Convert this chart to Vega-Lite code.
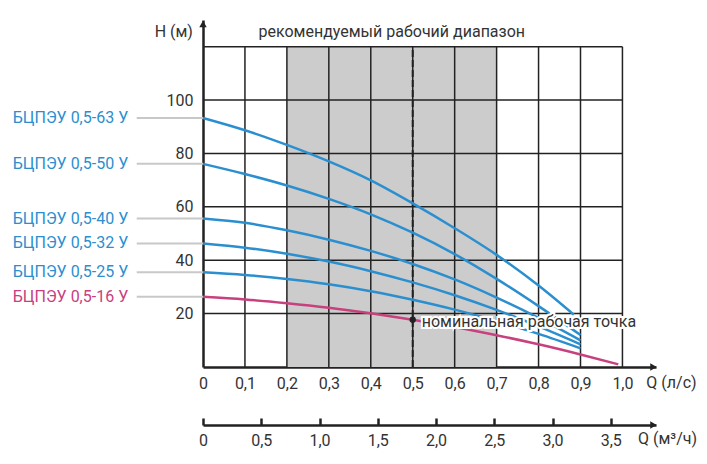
{
  "$schema": "https://vega.github.io/schema/vega-lite/v6.json",
  "autosize": {"type": "none"},
  "padding": {"left": 203, "top": 20, "right": 51, "bottom": 97},
  "width": 453,
  "height": 347,
  "config": {
    "view": {"stroke": null},
    "font": "Roboto",
    "text": {"font": "Roboto", "fontSize": 16, "color": "#333333"},
    "axis": {"labelFont": "Roboto", "labelFontSize": 16, "labelColor": "#333333", "domainColor": "#222222", "domainWidth": 2.5, "grid": false, "labelFlush": false, "labelOverlap": false}
  },
  "datasets": {
    "curves": [
      {"model": "63", "q": 0, "h": 93.3}, {"model": "63", "q": 0.1, "h": 88.7}, {"model": "63", "q": 0.2, "h": 83.2}, {"model": "63", "q": 0.3, "h": 77.0}, {"model": "63", "q": 0.4, "h": 69.9}, {"model": "63", "q": 0.5, "h": 61.3}, {"model": "63", "q": 0.6, "h": 52.0}, {"model": "63", "q": 0.7, "h": 42.0}, {"model": "63", "q": 0.8, "h": 30.5}, {"model": "63", "q": 0.884, "h": 19.6},
      {"model": "50", "q": 0, "h": 76.1}, {"model": "50", "q": 0.1, "h": 72.3}, {"model": "50", "q": 0.2, "h": 68.0}, {"model": "50", "q": 0.3, "h": 63.0}, {"model": "50", "q": 0.4, "h": 57.2}, {"model": "50", "q": 0.5, "h": 50.3}, {"model": "50", "q": 0.6, "h": 42.3}, {"model": "50", "q": 0.7, "h": 33.0}, {"model": "50", "q": 0.8, "h": 22.8}, {"model": "50", "q": 0.9, "h": 12.0},
      {"model": "40", "q": 0, "h": 55.6}, {"model": "40", "q": 0.1, "h": 54.0}, {"model": "40", "q": 0.2, "h": 51.2}, {"model": "40", "q": 0.3, "h": 47.7}, {"model": "40", "q": 0.4, "h": 43.5}, {"model": "40", "q": 0.5, "h": 38.6}, {"model": "40", "q": 0.6, "h": 32.8}, {"model": "40", "q": 0.7, "h": 26.0}, {"model": "40", "q": 0.8, "h": 18.4}, {"model": "40", "q": 0.9, "h": 10.0},
      {"model": "32", "q": 0, "h": 46.3}, {"model": "32", "q": 0.1, "h": 44.7}, {"model": "32", "q": 0.2, "h": 42.4}, {"model": "32", "q": 0.3, "h": 39.5}, {"model": "32", "q": 0.4, "h": 35.9}, {"model": "32", "q": 0.5, "h": 31.7}, {"model": "32", "q": 0.6, "h": 26.9}, {"model": "32", "q": 0.7, "h": 21.4}, {"model": "32", "q": 0.8, "h": 15.2}, {"model": "32", "q": 0.9, "h": 8.5},
      {"model": "25", "q": 0, "h": 35.5}, {"model": "25", "q": 0.1, "h": 34.5}, {"model": "25", "q": 0.2, "h": 33.0}, {"model": "25", "q": 0.3, "h": 31.0}, {"model": "25", "q": 0.4, "h": 28.4}, {"model": "25", "q": 0.5, "h": 25.2}, {"model": "25", "q": 0.6, "h": 21.5}, {"model": "25", "q": 0.7, "h": 17.2}, {"model": "25", "q": 0.8, "h": 12.4}, {"model": "25", "q": 0.9, "h": 7.0},
      {"model": "16", "q": 0, "h": 26.3}, {"model": "16", "q": 0.1, "h": 25.3}, {"model": "16", "q": 0.2, "h": 23.9}, {"model": "16", "q": 0.3, "h": 22.2}, {"model": "16", "q": 0.4, "h": 20.1}, {"model": "16", "q": 0.5, "h": 17.7}, {"model": "16", "q": 0.6, "h": 15.0}, {"model": "16", "q": 0.7, "h": 11.9}, {"model": "16", "q": 0.8, "h": 8.5}, {"model": "16", "q": 0.9, "h": 4.7}, {"model": "16", "q": 0.99, "h": 1.0}
    ],
    "labels": [
      {"model": "63", "label": "БЦПЭУ 0,5-63 У", "h": 93.3},
      {"model": "50", "label": "БЦПЭУ 0,5-50 У", "h": 76.1},
      {"model": "40", "label": "БЦПЭУ 0,5-40 У", "h": 55.6},
      {"model": "32", "label": "БЦПЭУ 0,5-32 У", "h": 46.3},
      {"model": "25", "label": "БЦПЭУ 0,5-25 У", "h": 35.5},
      {"model": "16", "label": "БЦПЭУ 0,5-16 У", "h": 26.3}
    ],
    "one": [{}]
  },
  "layer": [
    {
      "data": {"values": [{"q_from": 0.2, "q_to": 0.7, "h_from": 0, "h_to": 120}]},
      "mark": {"type": "rect", "color": "#cccccc"},
      "encoding": {
        "x": {"field": "q_from", "type": "quantitative", "scale": {"domain": [0, 1.08], "nice": false, "zero": false},
          "axis": {"orient": "bottom", "title": null, "values": [0, 0.1, 0.2, 0.3, 0.4, 0.5, 0.6, 0.7, 0.8, 0.9, 1.0], "ticks": false, "labelPadding": 8,
            "labelExpr": "datum.value == 0 ? '0' : replace(format(datum.value, '.1f'), '.', ',')"}},
        "x2": {"field": "q_to"},
        "y": {"field": "h_from", "type": "quantitative", "scale": {"domain": [0, 130], "nice": false, "zero": false},
          "axis": {"orient": "left", "title": null, "values": [20, 40, 60, 80, 100], "ticks": false, "labelPadding": 10}},
        "y2": {"field": "h_to"}
      }
    },
    {
      "data": {"values": [{"q": 0.1}, {"q": 0.2}, {"q": 0.3}, {"q": 0.4}, {"q": 0.5}, {"q": 0.6}, {"q": 0.7}, {"q": 0.8}, {"q": 0.9}, {"q": 1.0}]},
      "mark": {"type": "rule", "color": "#222222", "strokeWidth": 1.5},
      "encoding": {
        "x": {"field": "q", "type": "quantitative", "scale": {"domain": [0, 1.08], "nice": false, "zero": false}, "axis": null},
        "y": {"datum": 0, "type": "quantitative", "axis": null},
        "y2": {"datum": 120}
      }
    },
    {
      "data": {"values": [{"h": 20}, {"h": 40}, {"h": 60}, {"h": 80}, {"h": 100}, {"h": 120}]},
      "mark": {"type": "rule", "color": "#222222", "strokeWidth": 1.5},
      "encoding": {
        "y": {"field": "h", "type": "quantitative", "axis": null},
        "x": {"datum": 0, "type": "quantitative", "scale": {"domain": [0, 1.08], "nice": false, "zero": false}, "axis": null},
        "x2": {"datum": 1.0}
      }
    },
    {
      "data": {"values": [{"q": 0.5}]},
      "mark": {"type": "rule", "color": "#222222", "strokeWidth": 2, "strokeDash": [7, 3]},
      "encoding": {
        "x": {"field": "q", "type": "quantitative", "scale": {"domain": [0, 1.08], "nice": false, "zero": false}, "axis": null},
        "y": {"datum": 0, "type": "quantitative", "axis": null},
        "y2": {"datum": 120}
      }
    },
    {
      "data": {"name": "labels"},
      "mark": {"type": "rule", "color": "#c8c8c8", "strokeWidth": 2},
      "encoding": {
        "x": {"datum": -0.158, "type": "quantitative", "scale": {"domain": [0, 1.08], "nice": false, "zero": false}, "axis": null},
        "x2": {"datum": 0},
        "y": {"field": "h", "type": "quantitative", "axis": null}
      }
    },
    {
      "data": {"name": "curves"},
      "mark": {"type": "line", "strokeWidth": 2.5, "interpolate": "monotone"},
      "encoding": {
        "x": {"field": "q", "type": "quantitative", "scale": {"domain": [0, 1.08], "nice": false, "zero": false}, "axis": null},
        "y": {"field": "h", "type": "quantitative", "axis": null},
        "color": {"field": "model", "type": "nominal", "scale": {"domain": ["63", "50", "40", "32", "25", "16"], "range": ["#2b8fcf", "#2b8fcf", "#2b8fcf", "#2b8fcf", "#2b8fcf", "#c8407e"]}, "legend": null}
      }
    },
    {
      "data": {"values": [{"q": 0.5, "h": 17.7, "text": "номинальная рабочая точка"}]},
      "mark": {"type": "text", "align": "left", "baseline": "middle", "dx": 9, "dy": 2, "stroke": "white", "strokeWidth": 4, "fill": "white"},
      "encoding": {
        "x": {"field": "q", "type": "quantitative", "scale": {"domain": [0, 1.08], "nice": false, "zero": false}, "axis": null},
        "y": {"field": "h", "type": "quantitative", "axis": null},
        "text": {"field": "text"}
      }
    },
    {
      "data": {"values": [{"q": 0.5, "h": 17.7, "text": "номинальная рабочая точка"}]},
      "mark": {"type": "text", "align": "left", "baseline": "middle", "dx": 9, "dy": 2, "color": "#333333"},
      "encoding": {
        "x": {"field": "q", "type": "quantitative", "scale": {"domain": [0, 1.08], "nice": false, "zero": false}, "axis": null},
        "y": {"field": "h", "type": "quantitative", "axis": null},
        "text": {"field": "text"}
      }
    },
    {
      "data": {"values": [{"q": 0.5, "h": 17.7}]},
      "mark": {"type": "point", "filled": true, "color": "#222222", "size": 40, "opacity": 1},
      "encoding": {
        "x": {"field": "q", "type": "quantitative", "scale": {"domain": [0, 1.08], "nice": false, "zero": false}, "axis": null},
        "y": {"field": "h", "type": "quantitative", "axis": null}
      }
    },
    {
      "data": {"name": "labels"},
      "mark": {"type": "text", "align": "left", "baseline": "middle", "fontSize": 16},
      "encoding": {
        "x": {"datum": -0.4535, "type": "quantitative", "scale": {"domain": [0, 1.08], "nice": false, "zero": false}, "axis": null},
        "y": {"field": "h", "type": "quantitative", "axis": null},
        "text": {"field": "label"},
        "color": {"field": "model", "type": "nominal", "scale": {"domain": ["63", "50", "40", "32", "25", "16"], "range": ["#2b8fcf", "#2b8fcf", "#2b8fcf", "#2b8fcf", "#2b8fcf", "#c8407e"]}, "legend": null}
      }
    },
    {
      "data": {"name": "one"},
      "mark": {"type": "text", "align": "center", "baseline": "middle", "text": "рекомендуемый рабочий диапазон"},
      "encoding": {
        "x": {"datum": 0.45, "type": "quantitative", "scale": {"domain": [0, 1.08], "nice": false, "zero": false}, "axis": null},
        "y": {"datum": 125.5, "type": "quantitative", "axis": null}
      }
    },
    {
      "data": {"name": "one"},
      "mark": {"type": "text", "align": "right", "baseline": "middle", "text": "H (м)"},
      "encoding": {
        "x": {"datum": -0.024, "type": "quantitative", "scale": {"domain": [0, 1.08], "nice": false, "zero": false}, "axis": null},
        "y": {"datum": 125.4, "type": "quantitative", "axis": null}
      }
    },
    {
      "data": {"name": "one"},
      "mark": {"type": "text", "align": "left", "baseline": "middle", "text": "Q (л/с)"},
      "encoding": {
        "x": {"datum": 1.057, "type": "quantitative", "scale": {"domain": [0, 1.08], "nice": false, "zero": false}, "axis": null},
        "y": {"datum": -5.9, "type": "quantitative", "axis": null}
      }
    },
    {
      "data": {"name": "one"},
      "mark": {"type": "text", "align": "left", "baseline": "middle", "text": "Q (м³/ч)"},
      "encoding": {
        "x": {"datum": 1.037, "type": "quantitative", "scale": {"domain": [0, 1.08], "nice": false, "zero": false}, "axis": null},
        "y": {"datum": -27.1, "type": "quantitative", "axis": null}
      }
    },
    {
      "data": {"name": "one"},
      "mark": {"type": "point", "shape": "triangle-up", "filled": true, "color": "#222222", "size": 55, "opacity": 1},
      "encoding": {
        "x": {"datum": 0, "type": "quantitative", "scale": {"domain": [0, 1.08], "nice": false, "zero": false}, "axis": null},
        "y": {"datum": 128.5, "type": "quantitative", "axis": null}
      }
    },
    {
      "data": {"name": "one"},
      "mark": {"type": "point", "shape": "triangle-right", "filled": true, "color": "#222222", "size": 55, "opacity": 1},
      "encoding": {
        "x": {"datum": 1.074, "type": "quantitative", "scale": {"domain": [0, 1.08], "nice": false, "zero": false}, "axis": null},
        "y": {"datum": 0, "type": "quantitative", "axis": null}
      }
    },
    {
      "data": {"name": "one"},
      "mark": {"type": "point", "shape": "triangle-right", "filled": true, "color": "#222222", "size": 55, "opacity": 1},
      "encoding": {
        "x": {"datum": 3.866, "type": "quantitative", "scale": {"domain": [0, 3.888], "nice": false, "zero": false},
          "axis": {"orient": "bottom", "title": null, "offset": 58, "values": [0, 0.5, 1, 1.5, 2, 2.5, 3, 3.5], "ticks": true, "tickSize": -7, "tickWidth": 2.5, "tickColor": "#222222", "labelPadding": 14,
            "labelExpr": "datum.value == 0 ? '0' : replace(format(datum.value, '.1f'), '.', ',')"}},
        "y": {"datum": -21.7, "type": "quantitative", "axis": null}
      }
    }
  ],
  "resolve": {"scale": {"x": "independent"}, "axis": {"y": "independent"}}
}
